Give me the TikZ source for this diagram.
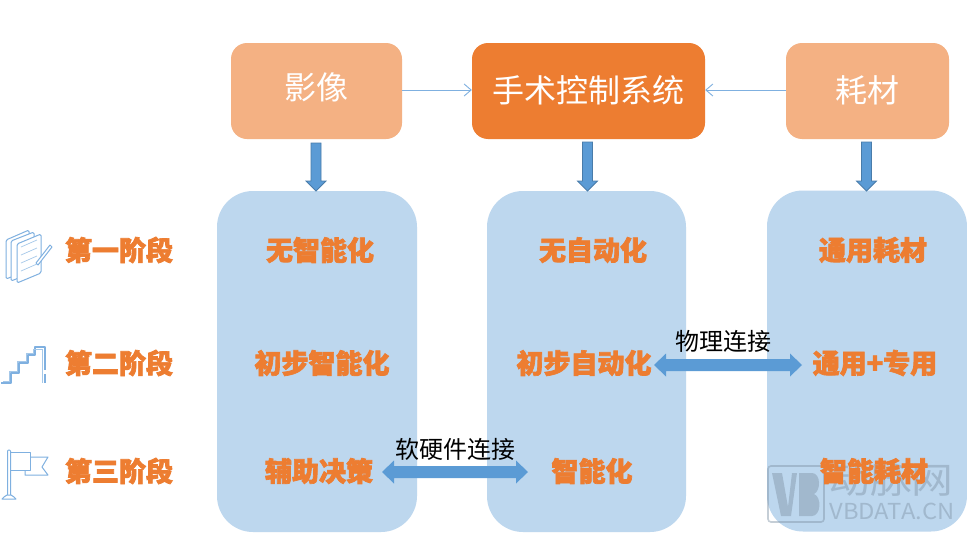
\documentclass[tikz,border=0pt]{standalone}
\usepackage{fontspec}
\usetikzlibrary{arrows.meta}
\setmainfont{Noto Sans CJK SC}
\newfontfamily\heavycjk[BoldFeatures={FakeBold=2.6}]{Noto Sans CJK SC}
\definecolor{lightorange}{HTML}{F4B183}
\definecolor{deeporange}{HTML}{ED7D31}
\definecolor{paleblue}{HTML}{BDD7EE}
\definecolor{midblue}{HTML}{5B9BD5}
\definecolor{iconblue}{HTML}{7FB0E0}
\definecolor{wmgray}{HTML}{7F93A6}
\tikzset{
  x=1pt,y=-1pt,
  topbox/.style={rounded corners=16pt,text=white,font=\fontsize{32}{32}\selectfont,inner sep=0pt},
  colbox/.style={fill=paleblue,rounded corners=36pt,inner sep=0pt},
  stagetext/.style={text=deeporange,font=\fontsize{27}{27}\selectfont\heavycjk\bfseries,inner sep=0pt},
  celltext/.style={text=deeporange,font=\fontsize{27}{27}\selectfont\heavycjk\bfseries,inner sep=0pt},
  linklabel/.style={text=black,font=\fontsize{24}{24}\selectfont,inner sep=0pt},
  thinarrow/.style={draw=iconblue,line width=0.9pt,-{Straight Barb[length=7pt,width=12pt]}},
  downarrow/.style={draw=midblue!80!black,fill=midblue,line width=0.8pt},
  wide/.style={draw=none,fill=midblue},
  icon/.style={draw=iconblue,line width=1pt,line join=round,fill=white},
  iconthin/.style={draw=iconblue!70,line width=0.7pt}
}
\begin{document}
\begin{tikzpicture}
\useasboundingbox (0,0) rectangle (967,533);
\fill[white] (0,0) rectangle (967,533);
% top boxes
\node[topbox,fill=lightorange,minimum width=171pt,minimum height=96pt] (img) at (316.5,91) {\raisebox{10pt}{影像}};
\node[topbox,fill=deeporange,minimum width=233pt,minimum height=96pt] (ctrl) at (588.5,91) {\raisebox{4pt}{手术控制系统}};
\node[topbox,fill=lightorange,minimum width=163pt,minimum height=96pt] (mat) at (867.5,91) {\raisebox{3pt}{耗材}};
% columns
\node[colbox,minimum width=200pt,minimum height=341pt] (colA) at (317,361.5) {};
\node[colbox,minimum width=199pt,minimum height=341pt] (colB) at (586.5,361.5) {};
\node[colbox,minimum width=200pt,minimum height=341pt] (colC) at (867,361) {};
% thin arrows
\draw[thinarrow] (img.east|-0,90) -- (ctrl.west|-0,90);
\draw[thinarrow] (mat.west|-0,90) -- (ctrl.east|-0,90);
% watermark
\begin{scope}[opacity=0.45]
\draw[wmgray,line width=1.6pt,rounded corners=3pt] (768,466) -- (824,466) -- (824,522) -- (768,522) -- cycle;
\fill[wmgray] (772,473) -- (782,473) -- (788,507) -- (792,473) -- (797,473) -- (791,516) -- (781,516) -- cycle;
\fill[wmgray] (799,473) -- (812,473) .. controls (821,473) and (821,491) .. (814,494) .. controls (822,497) and (821,516) .. (812,516) -- (799,516) -- cycle;
\node[text=wmgray,inner sep=0pt,font=\fontsize{22}{22}\selectfont,xscale=1.08] (wmurl) at (892,511) {VBDATA.CN};
\node[text=wmgray,inner sep=0pt,font=\fontsize{36}{36}\selectfont,xscale=1.16] (wmname) at (891,480) {动脉网};
\end{scope}
% down arrows
\draw[downarrow] (311,143) -- (321,143) -- (321,181) -- (326,181) -- (316,191) -- (306,181) -- (311,181) -- cycle;
\draw[downarrow] (582.5,142) -- (592.5,142) -- (592.5,181) -- (597.5,181) -- (587.5,191) -- (577.5,181) -- (582.5,181) -- cycle;
\draw[downarrow] (861.5,142) -- (871.5,142) -- (871.5,181) -- (876.5,181) -- (866.5,191) -- (856.5,181) -- (861.5,181) -- cycle;
% stage labels
\node[stagetext] (s1) at (119,250) {第一阶段};
\node[stagetext] (s2) at (119,363) {第二阶段};
\node[stagetext] (s3) at (119,471) {第三阶段};
% cells
\node[celltext] (a1t) at (320,250) {无智能化};
\node[celltext] (a2t) at (322,363) {初步智能化};
\node[celltext] (a3t) at (319,471) {辅助决策};
\node[celltext] (b1t) at (593,250) {无自动化};
\node[celltext] (b2t) at (584,363) {初步自动化};
\node[celltext] (b3t) at (592,471) {智能化};
\node[celltext] (c1t) at (873,250) {通用耗材};
\node[celltext] (c2t) at (875,363) {通用+专用};
\node[celltext] (c3t) at (874,471) {智能耗材};
% wide arrows
\fill[wide] (382,472) -- (394,460.5) -- (394,466) -- (516,466) -- (516,460.5) -- (528,472) -- (516,483.5) -- (516,478) -- (394,478) -- (394,483.5) -- cycle;
\fill[wide] (654,365) -- (666,353.5) -- (666,359) -- (790,359) -- (790,353.5) -- (802,365) -- (790,376.5) -- (790,371) -- (666,371) -- (666,376.5) -- cycle;
\node[linklabel] (l1) at (455,449) {软硬件连接};
\node[linklabel] (l2) at (723.5,341) {物理连接};
% icon 1: papers
\draw[icon,rounded corners=1.5pt] (6,240) -- (29,230) -- (29,270) -- (6,279) -- cycle;
\draw[icon,rounded corners=1.5pt] (11,241) -- (34,232) -- (34,272) -- (11,281) -- cycle;
\draw[icon,rounded corners=1.5pt] (17,244) -- (41,234) -- (41,273) -- (17,283) -- cycle;
\foreach \yy in {0,8,16,24}
  \draw[iconthin] (21,247+\yy) -- (37,240+\yy);
\draw[icon] (36,263) -- (50,245) -- (52,247) -- (38,265) -- cycle;
% icon 2: stairs
\draw[iconblue,line width=1.2pt,line join=round] (1,383) -- (11,383) -- (11,373) -- (19,373) -- (19,363) -- (28,363) -- (28,355) -- (35,355) -- (35,347) -- (45,347) -- (45,370);
\draw[iconblue,line width=1.2pt] (45,374) -- (45,383);
\draw[iconblue!70,line width=0.6pt] (3,381) -- (9,381) -- (9,371) -- (17,371) -- (17,361) -- (26,361) -- (26,353) -- (33,353) -- (33,349) -- (42,349) -- (42,383);
% icon 3: flag
\draw[icon] (25,457) -- (48,457) -- (42,467) -- (48,475) -- (25,475) -- cycle;
\draw[icon] (10,452) -- (30,452) -- (30,470) -- (10,470) -- cycle;
\draw[icon,rounded corners=1pt] (7.5,450) rectangle (10.5,496);
\draw[icon] (2,499) -- (4,497) -- (7,495) -- (11,495) -- (14,497) -- (16,499) -- cycle;
\end{tikzpicture}
\end{document}
